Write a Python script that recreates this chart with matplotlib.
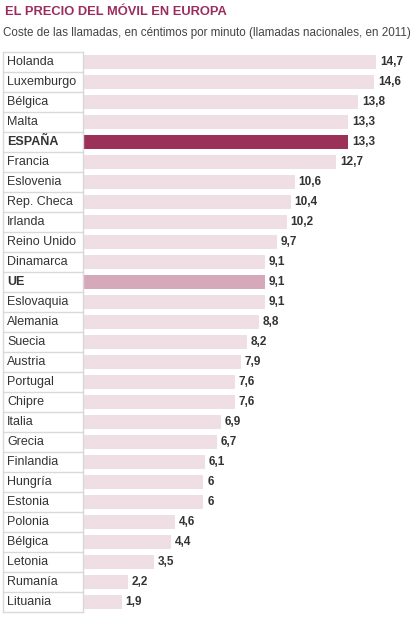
import matplotlib.pyplot as plt
from matplotlib.transforms import blended_transform_factory

plt.rcParams['font.family'] = ['Liberation Sans', 'DejaVu Sans']

# data
paises = ['Holanda', 'Luxemburgo', 'Bélgica', 'Malta', 'ESPAÑA', 'Francia',
          'Eslovenia', 'Rep. Checa', 'Irlanda', 'Reino Unido', 'Dinamarca', 'UE',
          'Eslovaquia', 'Alemania', 'Suecia', 'Austria', 'Portugal', 'Chipre',
          'Italia', 'Grecia', 'Finlandia', 'Hungría', 'Estonia', 'Polonia',
          'Bélgica', 'Letonia', 'Rumanía', 'Lituania']
precios = [14.7, 14.6, 13.8, 13.3, 13.3, 12.7, 10.6, 10.4, 10.2, 9.7, 9.1, 9.1,
           9.1, 8.8, 8.2, 7.9, 7.6, 7.6, 6.9, 6.7, 6.1, 6, 6, 4.6, 4.4, 3.5,
           2.2, 1.9]
destacados = {'ESPAÑA': '#9b3159', 'UE': '#d6a9ba'}

W, H = 414, 625
fig = plt.figure(figsize=(W / 100, H / 100), dpi=100)

fig.text(5 / W, 1 - 12 / H, 'EL PRECIO DEL MÓVIL EN EUROPA', color='#9b2c5e',
         fontsize=9.3, fontweight='bold', va='center', ha='left')
fig.text(3 / W, 1 - 33 / H,
         'Coste de las llamadas, en céntimos por minuto (llamadas nacionales, en 2011)',
         color='#444444', fontsize=8.4, va='center', ha='left')

# plot area: x=0 at pixel 84, 19.86 px per unit
x0 = 84
scale = 19.86
top, bottom = 52, 612
ax = fig.add_axes([x0 / W, 1 - bottom / H, (W - x0) / W, (bottom - top) / H])
ax.set_xlim(0, (W - x0) / scale)
ax.set_ylim(len(paises) - 0.5, -0.5)
ax.axis('off')

colores = [destacados.get(p, '#efdfe4') for p in paises]
ax.barh(range(len(paises)), precios, height=0.74, color=colores)

tr = blended_transform_factory(fig.transFigure, ax.transData)
for i, (p, v) in enumerate(zip(paises, precios)):
    bold = p in destacados
    ax.text(7 / W, i, p, transform=tr, va='center', ha='left', fontsize=9,
            color='#333333', fontweight='bold' if bold else 'normal')
    etiqueta = ('%g' % v).replace('.', ',')
    ax.text(v + 0.2, i, etiqueta, va='center', ha='left', fontsize=8.5,
            fontweight='bold', color='#333333')

# label column borders
for i in range(len(paises) + 1):
    ax.plot([3 / W, 83 / W], [i - 0.5, i - 0.5], transform=tr, color='#d9d9d9',
            lw=1, clip_on=False)
ax.plot([3 / W, 3 / W], [-0.5, len(paises) - 0.5], transform=tr, color='#d9d9d9',
        lw=1, clip_on=False)
ax.plot([83 / W, 83 / W], [-0.5, len(paises) - 0.5], transform=tr, color='#d9d9d9',
        lw=1, clip_on=False)

fig.savefig('out.png', dpi=100)
